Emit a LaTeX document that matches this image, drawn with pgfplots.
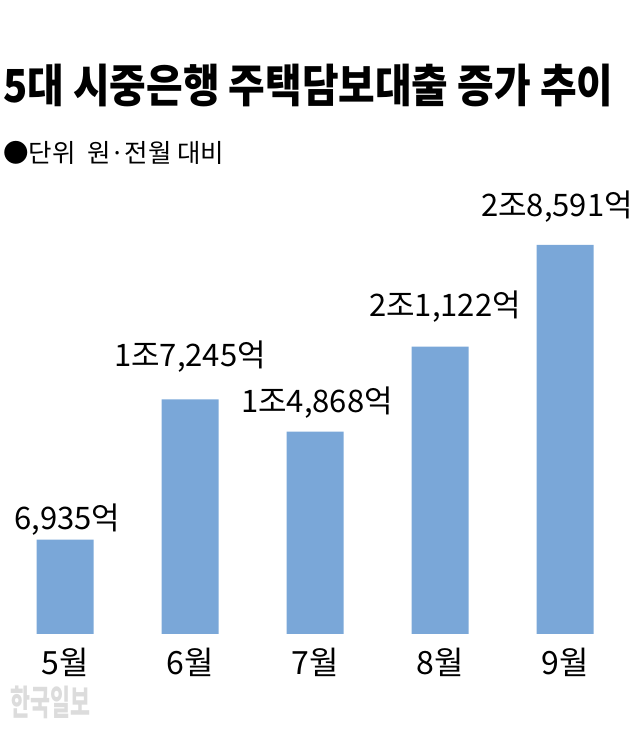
\documentclass[border=0pt]{standalone}
\usepackage{graphicx}
\usepackage{pgfplots}
\pgfplotsset{compat=1.18}
\usepackage{fontspec}
\setmainfont{Noto Sans CJK KR}
\definecolor{barblue}{RGB}{122,167,216}
\definecolor{wm}{RGB}{220,220,220}
\begin{document}
\begin{tikzpicture}
\begin{axis}[
  at={(0,0)}, anchor=south west,
  scale only axis, width=640pt, height=730pt,
  xmin=-0.52, xmax=4.6, ymin=-7056, ymax=46597,
  axis line style={draw=none}, tick style={draw=none},
  ytick=\empty, xtick={0,1,2,3,4}, xticklabels={5월,6월,7월,8월,9월},
  xticklabel style={anchor=base, yshift=55pt, inner sep=0pt, font=\fontsize{32}{32}\selectfont},
  clip=false,
]
\addplot[ybar, bar width=57pt, fill=barblue, draw=none] coordinates {(0,6935) (1,17245) (2,14868) (3,21122) (4,28591)};
\begin{scope}[every node/.style={anchor=base, inner sep=0pt, font=\fontsize{31}{31}\selectfont}]
\node at (axis cs:0.02,7644) {6,935억};
\node at (axis cs:1.0,19624) {1조7,245억};
\node at (axis cs:2.016,16243) {1조4,868억};
\node at (axis cs:3.04,23299) {2조1,122억};
\node at (axis cs:3.936,30648) {2조8,591억};
\end{scope}
\node[anchor=base west, inner sep=0pt] at (rel axis cs:0.0047,0.8589) {\scalebox{0.875}[1]{\fontsize{45.5}{45.5}\selectfont\bfseries 5대 시중은행 주택담보대출 증가 추이}};
\node[anchor=base west, inner sep=0pt] at (rel axis cs:0.0047,0.7767) {\fontsize{25.5}{25.5}\selectfont ●단위\ \ 원·전월 대비};
\node[anchor=base west, inner sep=0pt, text=wm] at (rel axis cs:0.0156,0.0192) {\scalebox{0.62}[1]{\fontsize{35}{35}\selectfont\bfseries 한국일보}};
\end{axis}
\end{tikzpicture}
\end{document}
